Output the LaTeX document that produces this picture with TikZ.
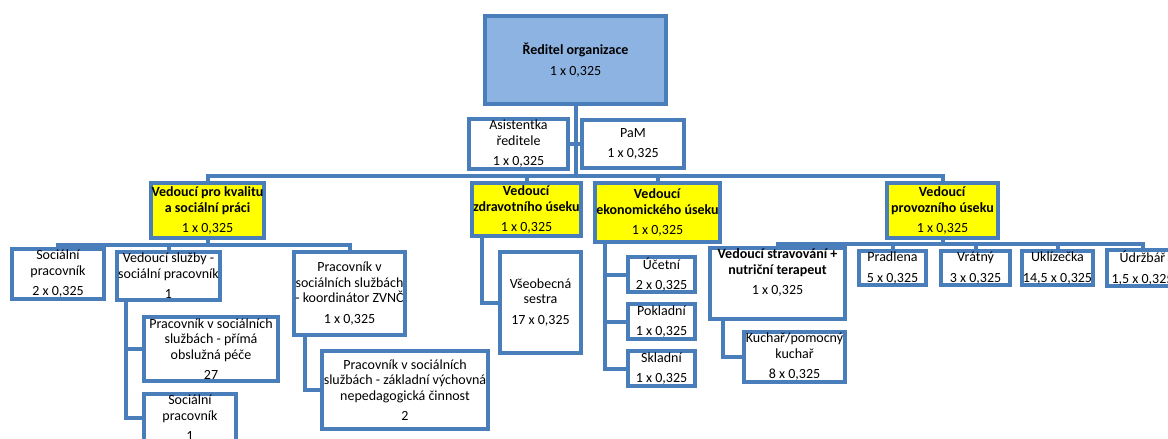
\documentclass[tikz,border=0pt]{standalone}
\usepackage{fontspec}
\setmainfont{Carlito}
\usetikzlibrary{calc}
\definecolor{orgBlue}{HTML}{4A7EBB}
\definecolor{orgFill}{HTML}{8DB3E2}
\definecolor{orgYellow}{HTML}{FFFF00}
\newcommand*{\Uvazek}[1]{\\[5pt]#1}
\newcommand*{\OrgUnit}[7]{% #1 = style, #2 = name, #3/#4 = left/top, #5/#6 = right/bottom
\node [#1, minimum width={#5-#3-4}, minimum height={#6-#4-4}]
(#2) at ({(#3+#5)/2},{(#4+#6)/2}) {#7};
}
\tikzset{
  unit/.style={draw=orgBlue, line width=4pt, fill=white, align=center,
    inner sep=1pt, font=\fontsize{14}{15.5}\selectfont},
  head/.style={unit, fill=orgYellow},
  link/.style={draw=orgBlue, line width=4pt},
}

\begin{document}
\begin{tikzpicture}[x=1pt, y=-1pt]

            \useasboundingbox (0,0) rectangle (1168,439);
            \clip (0,0) rectangle (1168,439);

            \OrgUnit{unit, fill=orgFill}{reditel}{483}{14}{668}{106}{\textbf{Ředitel organizace}\Uvazek{1 x 0,325}}
            \OrgUnit{unit}{asistentka}{467}{118}{570}{170}{Asistentka\\ředitele\Uvazek{1 x 0,325}}
            \OrgUnit{unit}{pam}{580}{118}{686}{170}{PaM\Uvazek{1 x 0,325}}

            \OrgUnit{head}{kvalita}{150}{181}{265}{240}{\textbf{Vedoucí pro kvalitu}\\\textbf{a sociální práci}\Uvazek{1 x 0,325}}
            \OrgUnit{head}{zdravotni}{470}{181}{583}{238}{\textbf{Vedoucí}\\\textbf{zdravotního úseku}\Uvazek{1 x 0,325}}
            \OrgUnit{head}{ekonomicky}{595}{181}{720}{244}{\textbf{Vedoucí}\\\textbf{ekonomického úseku}\Uvazek{1 x 0,325}}
            \OrgUnit{head}{provozni}{885}{181}{1000}{240}{\textbf{Vedoucí}\\\textbf{provozního úseku}\Uvazek{1 x 0,325}}

            \OrgUnit{unit}{socialni}{10}{250}{106}{298}{Sociální\\pracovník\Uvazek{2 x 0,325}}
            \OrgUnit{unit}{sluzby}{117}{250}{220}{302}{Vedoucí služby -\\sociální pracovník\Uvazek{1}}
            \OrgUnit{unit}{zvnc}{292}{250}{407}{337}{Pracovník v\\sociálních službách\\- koordinátor ZVNČ\Uvazek{1 x 0,325}}
            \OrgUnit{unit}{prima}{142}{315}{280}{383}{Pracovník v sociálních\\službách - přímá\\obslužná péče\Uvazek{27}}
            \OrgUnit{unit}{socialnidva}{142}{395}{238}{441}{Sociální\\pracovník\Uvazek{1}}
            \OrgUnit{unit}{zakladni}{320}{349}{490}{431}{Pracovník v sociálních\\službách - základní výchovná\\nepedagogická činnost\Uvazek{2}}

            \OrgUnit{unit}{sestra}{498}{250}{583}{355}{Všeobecná\\sestra\Uvazek{17 x 0,325}}

            \OrgUnit{unit}{ucetni}{626}{256}{697}{293}{Účetní\Uvazek{2 x 0,325}}
            \OrgUnit{unit}{pokladni}{626}{303}{697}{340}{Pokladní\Uvazek{1 x 0,325}}
            \OrgUnit{unit}{skladni}{626}{350}{697}{387}{Skladní\Uvazek{1 x 0,325}}

            \OrgUnit{unit}{stravovani}{708}{249}{847}{318}{\textbf{Vedoucí stravování +}\\\textbf{nutriční terapeut}\Uvazek{1 x 0,325}\\[8pt]}
            \OrgUnit{unit}{kuchar}{742}{331}{847}{383}{Kuchař/pomocný\\kuchař\Uvazek{8 x 0,325}}
            \OrgUnit{unit}{pradlena}{857}{249}{928}{287}{Pradlena\Uvazek{5 x 0,325}}
            \OrgUnit{unit}{vratny}{939}{249}{1012}{287}{Vrátný\Uvazek{3 x 0,325}}
            \OrgUnit{unit}{uklizecka}{1022}{249}{1093}{287}{Uklízečka\Uvazek{14,5 x 0,325}}
            \OrgUnit{unit}{udrzbar}{1105}{249}{1180}{287}{Údržbář\Uvazek{1,5 x 0,325}}

            % sbernice
            \coordinate (hlavni) at (0,176);
            \coordinate (kbus) at (0,245);
            \coordinate (pbus) at (0,244);
            \coordinate (vs) at ([xshift=11pt]sluzby.south west);
            \coordinate (zv) at ([xshift=13pt]zvnc.south west);
            \coordinate (zd) at ([xshift=12pt]zdravotni.south west);
            \coordinate (ek) at ([xshift=12pt]ekonomicky.south west);
            \coordinate (st) at ([xshift=15pt]stravovani.south west);

            \draw[link] (reditel.south) -- (reditel.south |- hlavni);
            \draw[link] (asistentka.east) -- (pam.west);
            \draw[link] (kvalita.north) |- (provozni.north |- hlavni) -- (provozni.north);
            \draw[link] (zdravotni.north) -- (zdravotni.north |- hlavni);
            \draw[link] (ekonomicky.north) -- (ekonomicky.north |- hlavni);

            \draw[link] (kvalita.south) -- (kvalita.south |- kbus);
            \draw[link] (socialni.north) |- (zvnc.north |- kbus) -- (zvnc.north);
            \draw[link] (sluzby.north) -- (sluzby.north |- kbus);
            \draw[link] (vs) |- (socialnidva.west);
            \draw[link] (prima.west) -- (prima.west -| vs);
            \draw[link] (zv) |- (zakladni.west);

            \draw[link] (zd) |- (sestra.west);

            \draw[link] (ek) |- (skladni.west);
            \draw[link] (ucetni.west) -- (ucetni.west -| ek);
            \draw[link] (pokladni.west) -- (pokladni.west -| ek);

            \draw[link] (provozni.south) -- (provozni.south |- pbus);
            \draw[link] (stravovani.north) |- (udrzbar.north |- pbus) -- (udrzbar.north);
            \draw[link] (pradlena.north) -- (pradlena.north |- pbus);
            \draw[link] (vratny.north) -- (vratny.north |- pbus);
            \draw[link] (uklizecka.north) -- (uklizecka.north |- pbus);
            \draw[link] (st) |- (kuchar.west);

        \end{tikzpicture}
\end{document}
